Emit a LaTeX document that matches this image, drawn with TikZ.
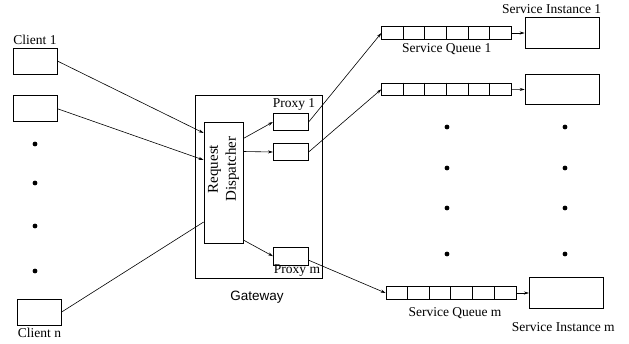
\documentclass[tikz,border=0pt]{standalone}
\usepackage{fontspec}
\setmainfont{Liberation Serif}
\setsansfont{Liberation Sans}
\usepackage{tikz}
\usetikzlibrary{positioning, arrows.meta}

\tikzset{
    box/.style={draw, line width=0.7pt, inner sep=0pt},
    queue/.style={box, minimum width=130pt, minimum height=12.6pt},
    arr/.style={-{Stealth[length=5pt, width=3pt]}, line width=0.6pt},
    link/.style={line width=0.6pt}
}

\begin{document}
\begin{tikzpicture}[x=1pt, y=-1pt, font=\fontsize{13.5}{16}\selectfont]
    \useasboundingbox (0,0) rectangle (629,343);

    % Clients
    \node[box, minimum width=44pt, minimum height=26pt] (c1) at (35,61) {};
    \node[box, minimum width=44pt, minimum height=26pt] (c2) at (35,108.7) {};
    \node[box, minimum width=44pt, minimum height=26pt] (cn) at (39.3,312) {};
    \node (c1lbl) at (35,40) {Client 1};
    \node (cnlbl) at (39.5,333) {Client n};
    \foreach \y in {144,183,226,271}
        \fill (35,\y) circle (2.4pt);

    % Gateway
    \node[box, minimum width=127pt, minimum height=183pt] (gw) at (258.5,186.5) {};
    \node[font=\sffamily\fontsize{13.5}{16}\selectfont] (gwlbl) at (257,297) {Gateway};
    \node[box, minimum width=39pt, minimum height=121pt] (rd) at (223.5,182.5) {};
    \node[rotate=90, align=center, font=\fontsize{15}{18}\selectfont] (rdlbl) at (223.5,169) {Request\\Dispatcher};

    \node[box, minimum width=35pt, minimum height=17.4pt] (p1) at (290.8,122) {};
    \node[box, minimum width=35pt, minimum height=17.4pt] (p2) at (290.8,152) {};
    \node[box, minimum width=35pt, minimum height=17.4pt] (pm) at (290.8,256.2) {};
    \node (p1lbl) at (294,104) {Proxy 1};
    \node (pmlbl) at (297,271) {Proxy m};

    % Queues and instances
    \node[queue] (q1) at (446.7,33) {};
    \node[queue] (q2) at (446.7,89.3) {};
    \node[queue] (qm) at (451,293) {};
    \foreach \q in {q1,q2,qm}
        \foreach \i in {1,...,5}
            \draw[line width=0.7pt] ([xshift=\i*21.67pt]\q.north west) -- ([xshift=\i*21.67pt]\q.south west);

    \node[box, minimum width=74pt, minimum height=30.6pt] (s1) at (562,33) {};
    \node[box, minimum width=74pt, minimum height=30.6pt] (s2) at (562,89.5) {};
    \node[box, minimum width=74pt, minimum height=30.6pt] (sm) at (566.3,293) {};

    \node (q1lbl) at (446.7,49.3) {Service Queue 1};
    \node (qmlbl) at (455,313.3) {Service Queue m};
    \node (s1lbl) at (551.7,9.3) {Service Instance 1};
    \node (smlbl) at (563.3,326.7) {Service Instance m};

    \foreach \y in {127,168,208,254} {
        \fill (447,\y) circle (2.4pt);
        \fill (565,\y) circle (2.4pt);
    }

    % Connections
    \draw[arr] (c1.east) -- ([yshift=49.5pt]rd.west);
    \draw[arr] (c2.east) -- ([yshift=22.5pt]rd.west);
    \draw[link] (cn.east) -- ([yshift=-39.5pt]rd.west);

    \draw[arr] ([yshift=44pt]rd.east) -- (p1.west);
    \draw[arr] ([yshift=31pt]rd.east) -- (p2.west);
    \draw[arr] ([yshift=-57.5pt]rd.east) -- (pm.west);

    \draw[arr] (p1.east) -- (q1.west);
    \draw[arr] (p2.east) -- (q2.west);
    \draw[arr] ([yshift=-4pt]pm.east) -- (qm.west);

    \draw[arr] (q1.east) -- (s1.west);
    \draw[arr] (q2.east) -- (s2.west);
    \draw[arr] (qm.east) -- (sm.west);
\end{tikzpicture}
\end{document}
